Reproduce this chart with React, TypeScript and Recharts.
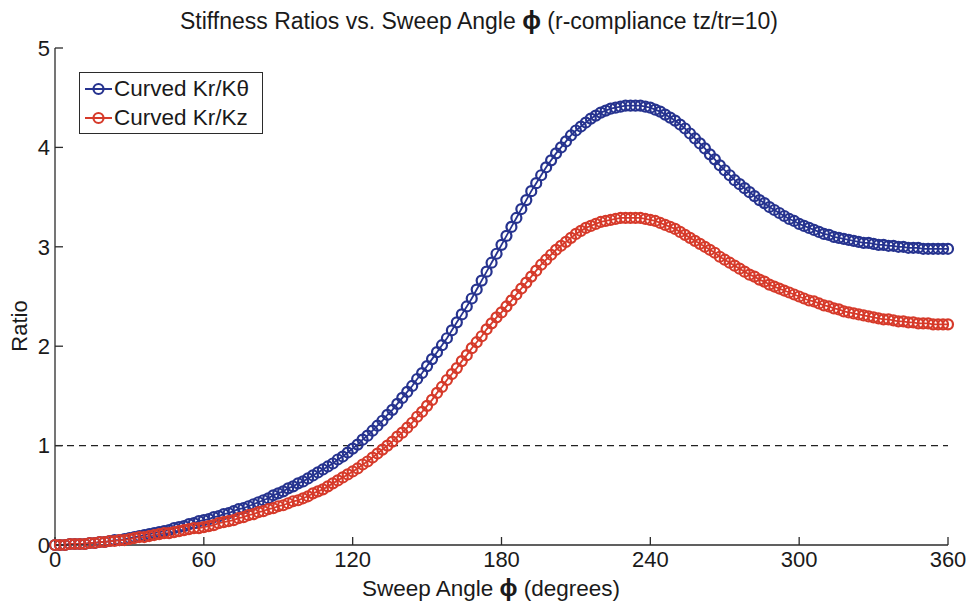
import React from 'react';
import { LineChart, Line, XAxis, YAxis, ReferenceLine, Legend } from 'recharts';

// sweep angle samples (degrees), one marker every 2 degrees
const sweepAngles = [
  0, 2, 4, 6, 8, 10, 12, 14, 16, 18,
  20, 22, 24, 26, 28, 30, 32, 34, 36, 38,
  40, 42, 44, 46, 48, 50, 52, 54, 56, 58,
  60, 62, 64, 66, 68, 70, 72, 74, 76, 78,
  80, 82, 84, 86, 88, 90, 92, 94, 96, 98,
  100, 102, 104, 106, 108, 110, 112, 114, 116, 118,
  120, 122, 124, 126, 128, 130, 132, 134, 136, 138,
  140, 142, 144, 146, 148, 150, 152, 154, 156, 158,
  160, 162, 164, 166, 168, 170, 172, 174, 176, 178,
  180, 182, 184, 186, 188, 190, 192, 194, 196, 198,
  200, 202, 204, 206, 208, 210, 212, 214, 216, 218,
  220, 222, 224, 226, 228, 230, 232, 234, 236, 238,
  240, 242, 244, 246, 248, 250, 252, 254, 256, 258,
  260, 262, 264, 266, 268, 270, 272, 274, 276, 278,
  280, 282, 284, 286, 288, 290, 292, 294, 296, 298,
  300, 302, 304, 306, 308, 310, 312, 314, 316, 318,
  320, 322, 324, 326, 328, 330, 332, 334, 336, 338,
  340, 342, 344, 346, 348, 350, 352, 354, 356, 358,
  360,
];

// Curved Kr/Kθ
const krOverKtheta = [
  0.00, 0.00, 0.00, 0.01, 0.01, 0.01, 0.01, 0.02, 0.02, 0.03,
  0.03, 0.04, 0.05, 0.05, 0.06, 0.07, 0.08, 0.09, 0.10, 0.11,
  0.12, 0.13, 0.14, 0.15, 0.17, 0.18, 0.19, 0.21, 0.22, 0.24,
  0.25, 0.26, 0.28, 0.29, 0.31, 0.32, 0.34, 0.36, 0.37, 0.39,
  0.41, 0.43, 0.45, 0.47, 0.50, 0.52, 0.54, 0.57, 0.59, 0.62,
  0.64, 0.67, 0.70, 0.73, 0.76, 0.79, 0.82, 0.86, 0.89, 0.93,
  0.97, 1.01, 1.06, 1.10, 1.15, 1.20, 1.25, 1.31, 1.36, 1.42,
  1.48, 1.54, 1.60, 1.67, 1.73, 1.80, 1.87, 1.94, 2.01, 2.08,
  2.16, 2.24, 2.32, 2.40, 2.48, 2.57, 2.66, 2.75, 2.84, 2.93,
  3.02, 3.11, 3.20, 3.29, 3.38, 3.47, 3.56, 3.64, 3.72, 3.80,
  3.87, 3.94, 4.00, 4.06, 4.12, 4.17, 4.21, 4.25, 4.29, 4.32,
  4.35, 4.37, 4.39, 4.40, 4.41, 4.42, 4.42, 4.42, 4.42, 4.41,
  4.40, 4.38, 4.36, 4.33, 4.30, 4.27, 4.23, 4.19, 4.14, 4.09,
  4.04, 3.99, 3.93, 3.88, 3.82, 3.77, 3.72, 3.67, 3.63, 3.59,
  3.55, 3.51, 3.47, 3.44, 3.40, 3.37, 3.34, 3.31, 3.28, 3.26,
  3.23, 3.21, 3.19, 3.17, 3.15, 3.13, 3.12, 3.10, 3.09, 3.08,
  3.07, 3.06, 3.05, 3.04, 3.04, 3.03, 3.02, 3.02, 3.01, 3.01,
  3.00, 3.00, 2.99, 2.99, 2.99, 2.98, 2.98, 2.98, 2.98, 2.98,
  2.98,
];

// Curved Kr/Kz
const krOverKz = [
  0.00, 0.00, 0.00, 0.01, 0.01, 0.01, 0.01, 0.02, 0.02, 0.03,
  0.03, 0.04, 0.04, 0.05, 0.05, 0.06, 0.07, 0.08, 0.08, 0.09,
  0.10, 0.11, 0.12, 0.12, 0.13, 0.14, 0.15, 0.16, 0.17, 0.17,
  0.18, 0.19, 0.20, 0.22, 0.23, 0.24, 0.25, 0.27, 0.28, 0.30,
  0.31, 0.33, 0.34, 0.36, 0.37, 0.39, 0.40, 0.42, 0.44, 0.45,
  0.47, 0.49, 0.52, 0.54, 0.56, 0.59, 0.62, 0.65, 0.68, 0.71,
  0.74, 0.77, 0.81, 0.84, 0.88, 0.92, 0.96, 1.00, 1.04, 1.09,
  1.13, 1.18, 1.23, 1.29, 1.34, 1.40, 1.46, 1.53, 1.59, 1.66,
  1.72, 1.78, 1.85, 1.91, 1.98, 2.04, 2.10, 2.17, 2.23, 2.29,
  2.34, 2.40, 2.46, 2.52, 2.58, 2.64, 2.70, 2.76, 2.82, 2.87,
  2.92, 2.97, 3.01, 3.05, 3.09, 3.13, 3.16, 3.19, 3.21, 3.23,
  3.25, 3.26, 3.27, 3.28, 3.29, 3.29, 3.29, 3.29, 3.29, 3.28,
  3.27, 3.26, 3.24, 3.22, 3.20, 3.18, 3.15, 3.12, 3.09, 3.06,
  3.03, 3.00, 2.97, 2.94, 2.90, 2.87, 2.84, 2.81, 2.78, 2.75,
  2.72, 2.70, 2.67, 2.65, 2.62, 2.60, 2.58, 2.56, 2.54, 2.52,
  2.50, 2.48, 2.46, 2.45, 2.43, 2.41, 2.40, 2.38, 2.37, 2.35,
  2.34, 2.33, 2.32, 2.31, 2.30, 2.29, 2.28, 2.27, 2.27, 2.26,
  2.25, 2.25, 2.24, 2.24, 2.23, 2.23, 2.23, 2.22, 2.22, 2.22,
  2.22,
];

const xTicks = [0, 60, 120, 180, 240, 300, 360];
const yTicks = [0, 1, 2, 3, 4, 5];

const BLUE = '#26338f';
const RED = '#d63a2a';
const AXIS = '#2b2b2b';
const FONT = '"Liberation Sans", Arial, Helvetica, sans-serif';

const data = sweepAngles.map((angle, i) => ({
  angle,
  kTheta: krOverKtheta[i],
  kz: krOverKz[i],
}));

const legendItems = [
  { label: 'Curved Kr/K\u03b8', color: BLUE },
  { label: 'Curved Kr/Kz', color: RED },
];

const MatlabLegend = () => (
  <div
    style={{
      border: `1px solid ${AXIS}`,
      background: '#fff',
      width: 182,
      height: 59,
      padding: '1px 0 0 0',
      fontFamily: FONT,
      fontSize: 22.5,
      color: '#1a1a1a',
    }}
  >
    {legendItems.map((item) => (
      <div key={item.label} style={{ display: 'flex', alignItems: 'center', height: 29 }}>
        <svg width={32} height={16} style={{ marginLeft: 3 }}>
          <line x1={2} y1={8} x2={29} y2={8} stroke={item.color} strokeWidth={2} />
          <circle cx={15.5} cy={8} r={5} fill="none" stroke={item.color} strokeWidth={2.2} />
        </svg>
        <span style={{ marginLeft: -1 }}>{item.label}</span>
      </div>
    ))}
  </div>
);

const tickStyle = { fontSize: 22, fill: '#1a1a1a', fontFamily: FONT };

export default function App() {
  return (
    <div
      style={{
        position: 'absolute',
        left: 0,
        top: 0,
        width: 966,
        height: 605,
        background: '#fff',
        fontFamily: FONT,
        color: '#1a1a1a',
      }}
    >
      <div
        style={{
          position: 'absolute',
          left: 0,
          top: 9,
          width: 958,
          textAlign: 'center',
          fontSize: 23,
          lineHeight: '23px',
          whiteSpace: 'nowrap',
        }}
      >
        Stiffness Ratios vs. Sweep Angle <b style={{ fontSize: 25 }}>&#981;</b> (r-compliance tz/tr=10)
      </div>
      <div
        style={{
          position: 'absolute',
          left: 291,
          top: 576,
          width: 400,
          textAlign: 'center',
          fontSize: 22.5,
          lineHeight: '23px',
          whiteSpace: 'nowrap',
        }}
      >
        Sweep Angle <b style={{ fontSize: 24 }}>&#981;</b> (degrees)
      </div>
      <div
        style={{
          position: 'absolute',
          left: 20,
          top: 326,
          fontSize: 22,
          lineHeight: '22px',
          transform: 'translate(-50%, -50%) rotate(-90deg)',
          whiteSpace: 'nowrap',
        }}
      >
        Ratio
      </div>

      <LineChart
        width={966}
        height={605}
        data={data}
        margin={{ top: 48, right: 18, bottom: 30, left: 15 }}
      >
        <XAxis
          dataKey="angle"
          type="number"
          domain={[0, 360]}
          ticks={xTicks}
          height={30}
          axisLine={{ stroke: AXIS, strokeWidth: 1.3 }}
          tickLine={{ stroke: AXIS, strokeWidth: 1.3 }}
          tickSize={-8}
          tickMargin={14}
          tick={tickStyle}
          interval={0}
        />
        <XAxis
          xAxisId="top"
          orientation="top"
          type="number"
          domain={[0, 360]}
          ticks={xTicks}
          height={0}
          axisLine={{ stroke: AXIS, strokeWidth: 1.3 }}
          tickLine={{ stroke: AXIS, strokeWidth: 1.3 }}
          tickSize={-8}
          tick={false}
        />
        <YAxis
          type="number"
          domain={[0, 5]}
          ticks={yTicks}
          width={40}
          axisLine={{ stroke: AXIS, strokeWidth: 1.3 }}
          tickLine={{ stroke: AXIS, strokeWidth: 1.3 }}
          tickSize={-8}
          tickMargin={13}
          tick={tickStyle}
          interval={0}
        />
        <YAxis
          yAxisId="right"
          orientation="right"
          type="number"
          domain={[0, 5]}
          ticks={yTicks}
          width={0}
          axisLine={{ stroke: AXIS, strokeWidth: 1.3 }}
          tickLine={{ stroke: AXIS, strokeWidth: 1.3 }}
          tickSize={-8}
          tick={false}
        />
        <ReferenceLine y={1} stroke="#222" strokeWidth={1.2} strokeDasharray="7 5" />
        <Legend
          layout="vertical"
          align="center"
          verticalAlign="middle"
          content={() => <MatlabLegend />}
          wrapperStyle={{ left: 79, top: 72, width: 184 }}
        />
        <Line
          dataKey="kTheta"
          name="Curved Kr/Kθ"
          type="linear"
          stroke={BLUE}
          strokeWidth={1.8}
          dot={{ r: 5, stroke: BLUE, strokeWidth: 2.2, fill: 'none' }}
          activeDot={false}
          isAnimationActive={false}
        />
        <Line
          dataKey="kz"
          name="Curved Kr/Kz"
          type="linear"
          stroke={RED}
          strokeWidth={1.8}
          dot={{ r: 5, stroke: RED, strokeWidth: 2.2, fill: 'none' }}
          activeDot={false}
          isAnimationActive={false}
        />
      </LineChart>
    </div>
  );
}
